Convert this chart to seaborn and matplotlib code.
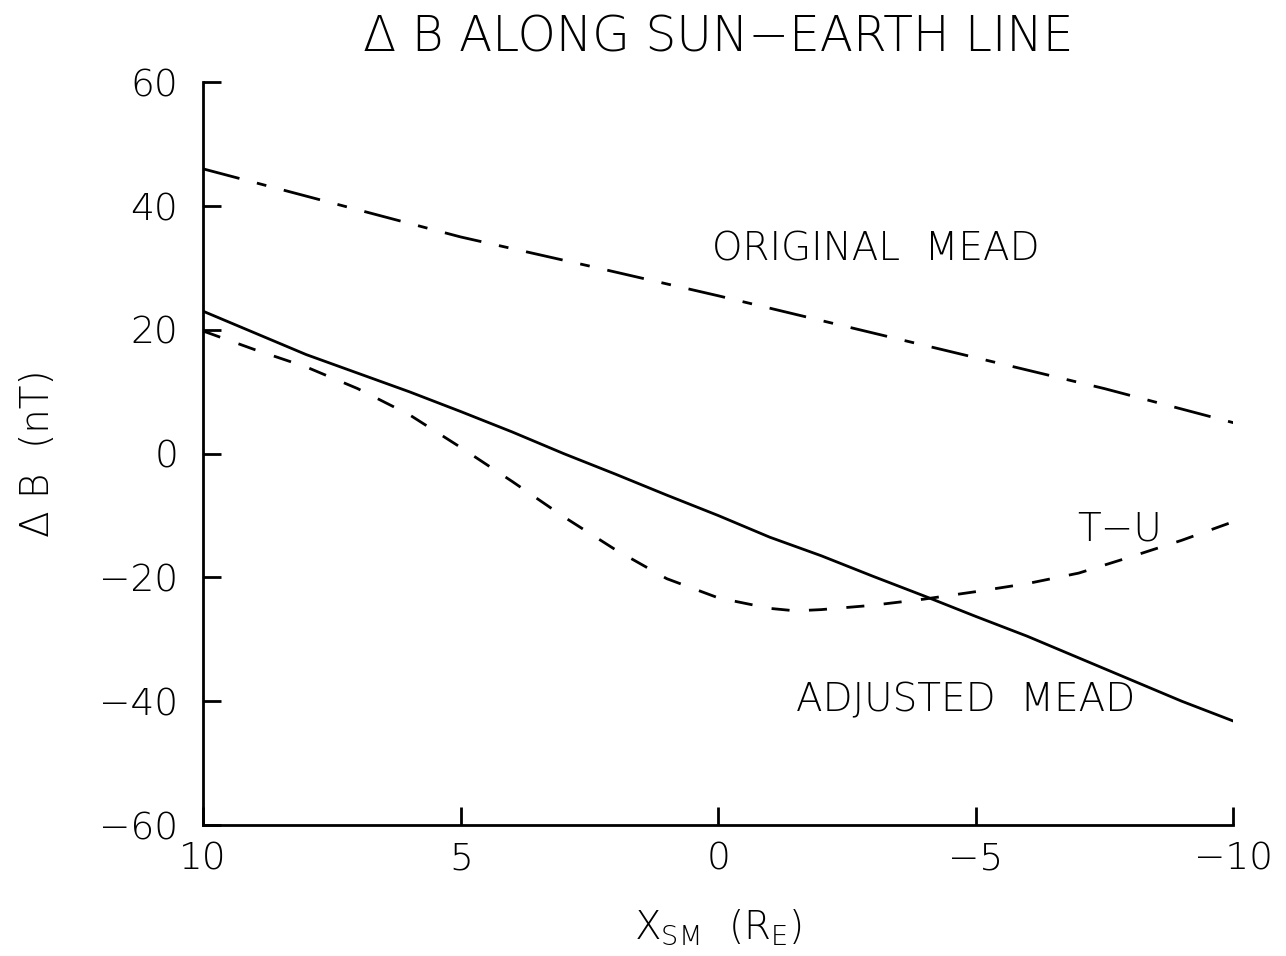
import matplotlib
matplotlib.use("Agg")
import matplotlib.pyplot as plt
import seaborn as sns
import pandas as pd

# X_SM positions (Earth radii) and field perturbation values (nT)
x_original = [10, 7.5, 5, 2.5, 0, -2.5, -5, -7.5, -10]
db_original = [46, 40.5, 35, 30.3, 25.5, 20.5, 15.5, 10.5, 5]

x_adjusted = [10, 9, 8, 7, 6, 5, 4, 3, 2, 1, 0, -1, -2, -3, -4, -5, -6, -7, -8, -9, -10]
db_adjusted = [23, 19.5, 16, 13, 10, 6.8, 3.5, 0, -3.3, -6.7, -10, -13.5, -16.5,
               -19.8, -23, -26.3, -29.5, -33, -36.5, -40, -43.2]

x_tu = [10, 9, 8, 7, 6, 5, 4, 3, 2, 1, 0, -1, -1.5, -2, -3, -4, -5, -6, -7, -8, -9, -10]
db_tu = [19.8, 16.8, 14, 10.5, 6.3, 1, -4.5, -10.2, -15.5, -20.2, -23.3, -25.0, -25.4,
         -25.2, -24.5, -23.5, -22.3, -21, -19.3, -16.7, -14, -11]

x_ticks = [10, 5, 0, -5, -10]
y_ticks = [-60, -40, -20, 0, 20, 40, 60]

sns.set_theme(style="white")
plt.rcParams["font.family"] = ["DejaVu Sans"]
plt.rcParams["font.weight"] = "light"
plt.rcParams["axes.titleweight"] = "light"
plt.rcParams["axes.labelweight"] = "light"
plt.rcParams["text.color"] = "black"
plt.rcParams["axes.labelcolor"] = "black"
plt.rcParams["lines.scale_dashes"] = False

fig = plt.figure(figsize=(12.86, 9.56), dpi=100)
ax = fig.add_axes([0.158, 0.137, 0.801, 0.777])

df_orig = pd.DataFrame({"x": x_original, "db": db_original})
df_adj = pd.DataFrame({"x": x_adjusted, "db": db_adjusted})
df_tu = pd.DataFrame({"x": x_tu, "db": db_tu})

lw = 2.0
sns.lineplot(data=df_orig, x="x", y="db", ax=ax, color="black", lw=lw,
             sort=False, estimator=None)
sns.lineplot(data=df_adj, x="x", y="db", ax=ax, color="black", lw=lw,
             sort=False, estimator=None)
sns.lineplot(data=df_tu, x="x", y="db", ax=ax, color="black", lw=lw,
             sort=False, estimator=None)
lines = ax.get_lines()
lines[0].set_dashes([27, 13, 7, 13])
lines[2].set_dashes([13, 14])

ax.set_xlim(10, -10)
ax.set_ylim(-60, 60)
ax.set_xticks(x_ticks)
ax.set_yticks(y_ticks)
ax.set_xticklabels([str(v).replace("-", "\u2212") for v in x_ticks])
ax.set_yticklabels([str(v).replace("-", "\u2212") for v in y_ticks])

for side in ["top", "right"]:
    ax.spines[side].set_visible(False)
for side in ["left", "bottom"]:
    ax.spines[side].set_color("black")
    ax.spines[side].set_linewidth(2.0)

ax.tick_params(axis="both", direction="in", length=13, width=2.0,
               color="black", labelsize=27, labelcolor="black")
ax.tick_params(axis="x", pad=12, bottom=True)
ax.tick_params(axis="y", pad=18, left=True)

ax.set_xlabel(r"$\mathregular{X_{SM}\ \ (R_E)}$", fontsize=28, labelpad=22,
              fontweight="light")
ax.set_ylabel("\u0394 B  (nT)", fontsize=28, labelpad=30, fontweight="light")
ax.set_title("\u0394 B ALONG SUN\u2212EARTH LINE", fontsize=35, pad=22,
             fontweight="light")

ax.text(-3.05, 33, "ORIGINAL  MEAD", fontsize=28, ha="center", va="center")
ax.text(-4.8, -39.8, "ADJUSTED  MEAD", fontsize=28, ha="center", va="center")
ax.text(-7.8, -12.3, "T\u2212U", fontsize=28, ha="center", va="center")

fig.savefig("out.png", dpi=100)
